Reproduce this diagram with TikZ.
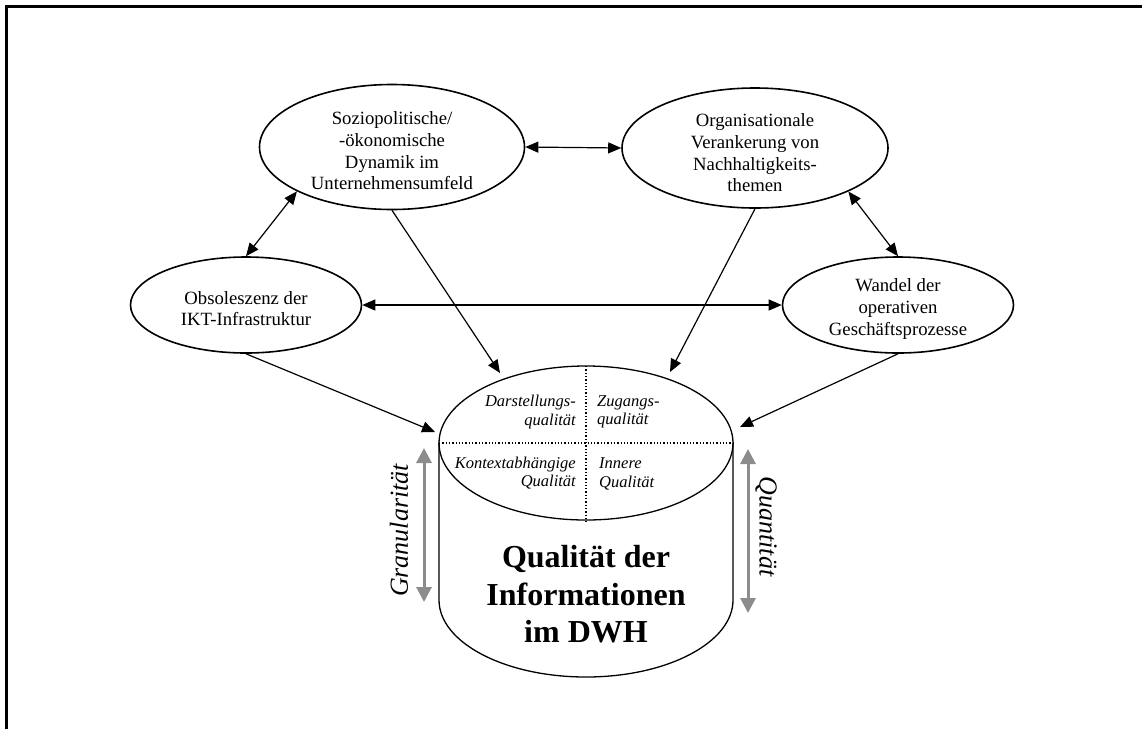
\documentclass[tikz,border=0pt]{standalone}
\usepackage{fontspec}
\setmainfont{Liberation Serif}
\usetikzlibrary{arrows.meta,shapes.geometric}

\begin{document}
\begin{tikzpicture}[x=1pt,y=-1pt,
  factor/.style={draw, ellipse, line width=1.6pt, inner sep=0pt},
  factortext/.style={inner sep=0pt, align=center,
    font=\fontsize{18.7}{21.7}\selectfont},
  link/.style={line width=1.2pt,
    {Triangle[length=13pt,width=11pt]}-{Triangle[length=13pt,width=11pt]}},
  feed/.style={line width=1.2pt, -{Triangle[length=13pt,width=11pt]}},
  scalearrow/.style={line width=3pt, draw=black!45,
    {Triangle[length=15pt,width=15pt]}-{Triangle[length=15pt,width=15pt]}},
  quadtext/.style={inner sep=0pt, font=\fontsize{16.5}{18.5}\selectfont\itshape},
  dotsep/.style={line width=1.3pt, dash pattern=on 1.3pt off 2pt},
  axislabel/.style={inner sep=0pt, font=\fontsize{26}{26}\selectfont\itshape}
]
\useasboundingbox (0,0) rectangle (1142,729);

% frame
\draw[line width=2.5pt] (6.5,729) -- (6.5,6.5) -- (1142,6.5);

% influencing factors
\node[factor, minimum width=265pt, minimum height=125pt] (soz) at (392,147) {};
\node[factortext] (sozT) at (392,151)
  {Soziopolitische/\\-ökonomische\\Dynamik im\\Unternehmensumfeld};
\node[factor, minimum width=266pt, minimum height=120pt] (org) at (755,148) {};
\node[factortext] (orgT) at (755,153)
  {Organisationale\\Verankerung von\\Nachhaltigkeits-\\themen};
\node[factor, minimum width=231pt, minimum height=96pt] (obs) at (246,305) {};
\node[factortext] (obsT) at (246,308.5)
  {Obsoleszenz der\\IKT-Infrastruktur};
\node[factor, minimum width=231pt, minimum height=96pt] (wan) at (898,305) {};
\node[factortext] (wanT) at (898,309)
  {Wandel der\\operativen\\Geschäftsprozesse};

% data warehouse cylinder
\draw[line width=1.3pt] (439,443) -- (439,600)
  arc[start angle=180, end angle=360, x radius=147pt, y radius=77pt] -- (733,443);
\draw[line width=1.3pt] (586,443) ellipse[x radius=147pt, y radius=77pt];
\draw[dotsep] (439,443) -- (733,443);
\draw[dotsep] (586,366) -- (586,523);

\node[quadtext, anchor=east, align=right] (q1) at (576,412) {Darstellungs-\\qualität};
\node[quadtext, anchor=west, align=left] (q2) at (597,412) {Zugangs-\\qualität};
\node[quadtext, anchor=east, align=right] (q3) at (576,473) {Kontextabhängige\\Qualität};
\node[quadtext, anchor=west, align=left] (q4) at (599,474) {Innere\\Qualität};

\node[inner sep=0pt, align=center, font=\fontsize{32}{37.5}\selectfont\bfseries] (dwh)
  at (586,594.5) {Qualität der\\Informationen\\im DWH};

% dimensions along the cylinder
\coordinate (granTop) at (424,448);
\coordinate (granBot) at (424,602);
\coordinate (quanTop) at (748,449);
\coordinate (quanBot) at (748,613);
\draw[scalearrow] (granTop) -- (granBot);
\draw[scalearrow] (quanTop) -- (quanBot);
\node[axislabel, rotate=90] (gran) at (399,530.5) {Granularität};
\node[axislabel, rotate=-90] (quan) at (766,526.5) {Quantität};

% mutual relations between factors
\draw[link] (soz.east) -- (org.west);
\draw[link] (obs.east) -- (wan.west);
\draw[link] (soz.205) -- (obs.north);
\draw[link] (org.335) -- (wan.north);

% effects on the information quality
\coordinate (tSoz) at (500,373);
\coordinate (tOrg) at (670,372);
\coordinate (tObs) at (435,432);
\coordinate (tWan) at (740,427);
\draw[feed] (soz.south) -- (tSoz);
\draw[feed] (org.south) -- (tOrg);
\draw[feed] (obs.south) -- (tObs);
\draw[feed] (wan.south) -- (tWan);
\end{tikzpicture}
\end{document}
